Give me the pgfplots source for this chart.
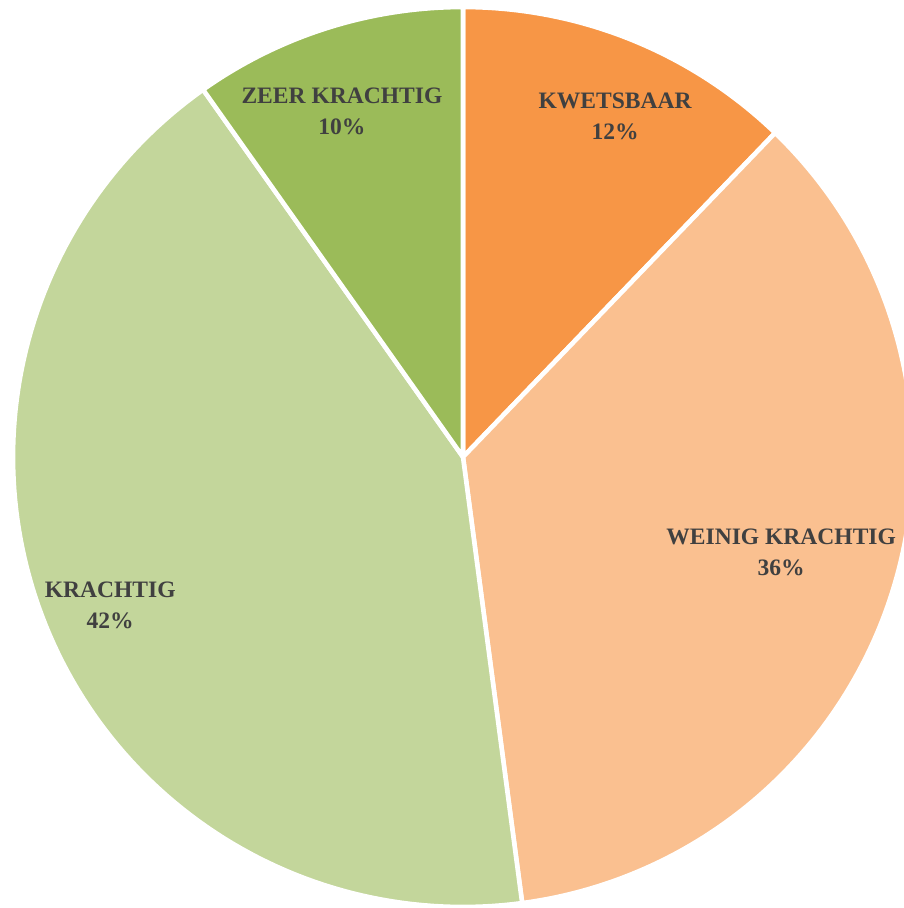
\documentclass[border=0pt]{standalone}
\usepackage{pgfplots}
\usepackage{pgfplotstable}
\pgfplotsset{compat=1.18}
\usepackage{fontspec}
\setmainfont{Liberation Serif}
\definecolor{cA}{HTML}{F79646}
\definecolor{cB}{HTML}{FAC090}
\definecolor{cC}{HTML}{C3D69B}
\definecolor{cD}{HTML}{9BBB59}
\definecolor{txt}{HTML}{404040}
\pgfplotstableread{
label value
KWETSBAAR 12.2
WEINIG 35.7
KRACHTIG 42.3
ZEER 9.8
}\piedata
\pgfplotstablegetelem{0}{value}\of\piedata \let\vA\pgfplotsretval
\pgfplotstablegetelem{1}{value}\of\piedata \let\vB\pgfplotsretval
\pgfplotstablegetelem{2}{value}\of\piedata \let\vC\pgfplotsretval
\pgfplotstablegetelem{3}{value}\of\piedata \let\vD\pgfplotsretval
\pgfmathsetmacro\aA{90}
\pgfmathsetmacro\aB{\aA-3.6*\vA}
\pgfmathsetmacro\aC{\aB-3.6*\vB}
\pgfmathsetmacro\aD{\aC-3.6*\vC}
\pgfmathsetmacro\aE{\aD-3.6*\vD}
\begin{document}
\begin{tikzpicture}
\begin{axis}[name=ax, hide axis, x=4.5cm, y=4.5cm,
  xmin=-1.0289, xmax=0.9800, ymin=-1.0022, ymax=1.0156,
  clip=true, samples=120,
  every axis plot/.append style={draw=white, line width=1.3pt, line join=round}]
\addplot[fill=cA, domain=\aB:\aA] ({cos(x)},{sin(x)}) -- (axis cs:0,0) -- cycle;
\addplot[fill=cB, domain=\aC:\aB] ({cos(x)},{sin(x)}) -- (axis cs:0,0) -- cycle;
\addplot[fill=cC, domain=\aD:\aC] ({cos(x)},{sin(x)}) -- (axis cs:0,0) -- cycle;
\addplot[fill=cD, domain=\aE:\aD] ({cos(x)},{sin(x)}) -- (axis cs:0,0) -- cycle;
\begin{scope}[every node/.style={text=txt, font=\fontsize{6.7}{8.8}\selectfont\bfseries, align=center}]
\node at (axis cs:0.338,0.756) {KWETSBAAR\\12\%};
\node at (axis cs:0.707,-0.211) {WEINIG KRACHTIG\\36\%};
\node at (axis cs:-0.784,-0.329) {KRACHTIG\\42\%};
\node at (axis cs:-0.269,0.769) {ZEER KRACHTIG\\10\%};
\end{scope}
\end{axis}
\pgfresetboundingbox
\path[use as bounding box] (ax.south west) rectangle (ax.north east);
\end{tikzpicture}
\end{document}
